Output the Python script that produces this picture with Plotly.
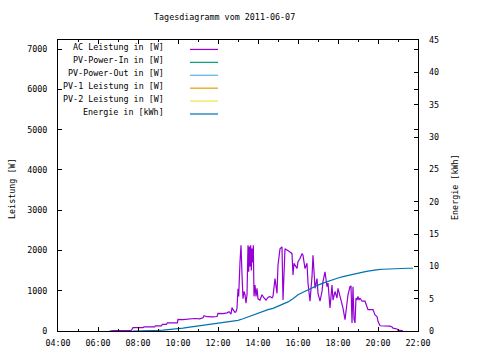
import plotly.graph_objects as go

DAY = "2011-06-07"

ac_times = ["06:35","06:45","07:40","07:42","07:45","08:15","08:18","08:50","08:52","09:10",
            "09:13","09:25","09:28","09:58","10:00","10:15","10:30","10:33","10:50","11:05",
            "11:15","11:18","11:25","11:28","11:45","11:57","12:00","12:15","12:27","12:33",
            "12:39","12:42","12:45","12:51","12:54","12:57","13:00","13:02","13:06","13:09",
            "13:12","13:15","13:18","13:21","13:24","13:27","13:30","13:32","13:34","13:36",
            "13:38","13:40","13:42","13:44","13:46","13:48","13:51","13:54","13:57","14:00",
            "14:06","14:12","14:18","14:24","14:30","14:36","14:42","14:45","14:51","14:57",
            "15:00","15:06","15:12","15:15","15:21","15:30","15:36","15:42","15:45","15:48",
            "15:51","15:57","16:00","16:06","16:12","16:15","16:21","16:27","16:30","16:36",
            "16:42","16:45","16:51","16:57","17:00","17:06","17:12","17:15","17:21","17:27",
            "17:30","17:36","17:42","17:45","17:51","17:57","18:00","18:06","18:12","18:15",
            "18:21","18:27","18:30","18:36","18:39","18:42","18:45","18:48","18:51","18:54",
            "18:57","19:00","19:03","19:06","19:12","19:21","19:27","19:30","19:45","19:51",
            "19:57","20:00","20:06","20:27","20:30","20:36","20:42","20:45","20:57","21:00",
            "21:12","21:15"]
ac_watts = [0,10,10,50,85,85,100,100,125,125,
            165,165,200,200,290,280,290,300,310,300,
            330,380,370,355,350,360,440,430,450,480,
            420,580,530,460,480,560,1050,860,1720,2130,
            1400,800,980,900,690,900,2130,1470,2100,1600,
            2130,1500,2050,1700,2130,860,1140,860,1060,800,
            770,900,820,770,835,860,820,860,1300,935,
            1640,2040,2090,770,2040,2000,1960,1920,1390,1680,
            1640,1550,1720,1800,1920,1880,1550,1680,1190,740,
            1350,1880,1060,1300,935,740,980,1230,1470,1100,
            1190,570,1140,770,980,820,1060,860,690,570,
            280,770,900,1100,1120,200,1100,300,200,820,
            770,860,770,820,740,740,570,530,530,400,
            360,240,130,130,120,120,100,70,50,20,
            10,0]

en_times = ["07:45","08:00","08:15","08:30","08:45","09:00","09:15","09:30","09:45","10:00",
            "10:15","10:30","10:45","11:00","11:15","11:30","11:45","12:00","12:15","12:30",
            "12:45","13:00","13:15","13:30","13:45","14:00","14:15","14:30","14:45","15:00",
            "15:15","15:30","15:45","16:00","16:15","16:30","16:45","17:00","17:15","17:30",
            "17:45","18:00","18:15","18:30","18:45","19:00","19:15","19:30","19:45","20:00",
            "20:15","20:30","20:45","21:00","21:15","21:30","21:45"]
en_kwh = [0.0,0.0,0.0,0.05,0.1,0.1,0.15,0.2,0.3,0.35,
          0.45,0.55,0.65,0.75,0.85,0.95,1.05,1.15,1.3,1.4,
          1.5,1.65,1.9,2.2,2.5,2.8,3.1,3.3,3.5,3.8,
          4.1,4.5,5.0,5.6,6.0,6.4,6.8,7.1,7.4,7.7,
          8.0,8.2,8.4,8.6,8.8,8.95,9.1,9.25,9.4,9.5,
          9.55,9.6,9.65,9.7,9.7,9.7,9.7]

legend_labels = ["AC Leistung in [W]", "PV-Power-In in [W]", "PV-Power-Out in [W]",
                 "PV-1 Leistung in [W]", "PV-2 Leistung in [W]", "Energie in [kWh]"]
legend_colors = ["#9400d3", "#009e73", "#56b4e9", "#e69f00", "#f0e442", "#0072b2"]

y1_ticks = [0, 1000, 2000, 3000, 4000, 5000, 6000, 7000]
y2_ticks = [0, 5, 10, 15, 20, 25, 30, 35, 40, 45]

FONT = "DejaVu Sans Mono"
FS = 8.4

W, H = 480, 360
L, R, T, B = 58, 62, 40, 27
pw, ph = W - L - R, H - T - B

def px(x):
    return (x - L) / pw

def py(y):
    return (H - B - y) / ph

fig = go.Figure()
fig.add_trace(go.Scatter(x=[f"{DAY} {t}" for t in ac_times], y=ac_watts, mode="lines",
                         line=dict(color=legend_colors[0], width=1.2), showlegend=False))
fig.add_trace(go.Scatter(x=[f"{DAY} {t}" for t in en_times], y=en_kwh, mode="lines",
                         line=dict(color=legend_colors[5], width=1.2), yaxis="y2", showlegend=False))

annotations = [
    dict(text="Tagesdiagramm vom 2011-06-07", x=px(224), y=py(17), xref="paper", yref="paper",
         showarrow=False, xanchor="center", yanchor="middle"),
    dict(text="Leistung [W]", x=px(12), y=py(190), xref="paper", yref="paper", textangle=-90,
         showarrow=False, xanchor="center", yanchor="middle"),
    dict(text="Energie [kWh]", x=px(455), y=py(188), xref="paper", yref="paper", textangle=-90,
         showarrow=False, xanchor="center", yanchor="middle"),
]
shapes = []
for i, (lab, col) in enumerate(zip(legend_labels, legend_colors)):
    ty = 47 + 13 * i
    annotations.append(dict(text=lab, x=px(166), y=py(ty), xref="paper", yref="paper",
                            showarrow=False, xanchor="right", yanchor="middle"))
    shapes.append(dict(type="line", xref="paper", yref="paper", x0=px(190), x1=px(218),
                       y0=py(ty + 2.5), y1=py(ty + 2.5), line=dict(color=col, width=1.2)))

fig.update_layout(
    width=W, height=H, autosize=False,
    margin=dict(l=L, r=R, t=T, b=B, pad=0),
    paper_bgcolor="white", plot_bgcolor="white",
    font=dict(family=FONT, size=FS, color="black"),
    showlegend=False,
    annotations=annotations, shapes=shapes,
    xaxis=dict(type="date", range=[f"{DAY} 04:00", f"{DAY} 22:00"],
               tickformat="%H:%M", dtick=2 * 3600000, tick0=f"{DAY} 04:00",
               ticks="inside", ticklen=4, tickcolor="black", tickwidth=1,
               minor=dict(dtick=3600000, ticks="inside", ticklen=2, tickcolor="black"),
               showline=True, linecolor="black", linewidth=1, mirror="ticks",
               showgrid=False, zeroline=False, ticklabelstandoff=4,
               tickfont=dict(family=FONT, size=FS, color="black")),
    yaxis=dict(range=[0, 7225], tickvals=y1_ticks, ticktext=[str(v) for v in y1_ticks],
               ticks="inside", ticklen=4, tickcolor="black",
               showline=True, linecolor="black", linewidth=1, mirror="ticks",
               showgrid=False, zeroline=False, ticklabelstandoff=8,
               tickfont=dict(family=FONT, size=FS, color="black")),
    yaxis2=dict(range=[0, 45], tickvals=y2_ticks, ticktext=[str(v) for v in y2_ticks],
                overlaying="y", side="right", ticks="inside", ticklen=4, tickcolor="black",
                showline=False, showgrid=False, zeroline=False, ticklabelstandoff=10,
                tickfont=dict(family=FONT, size=FS, color="black")),
)

fig.write_html("out.html", config={"displayModeBar": False},
               post_script="document.body.style.margin='0';document.body.style.overflow='hidden';")
